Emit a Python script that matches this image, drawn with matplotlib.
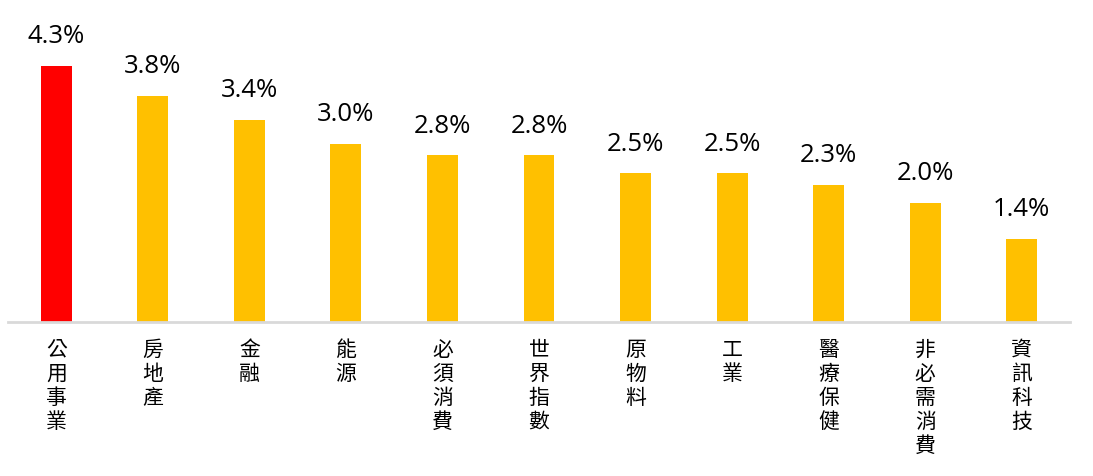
import matplotlib
matplotlib.use("Agg")
import matplotlib.pyplot as plt

# Sector yields (%)
sectors = ["公用事業", "房地產", "金融", "能源", "必須消費", "世界指數",
           "原物料", "工業", "醫療保健", "非必需消費", "資訊科技"]
values = [4.3, 3.8, 3.4, 3.0, 2.8, 2.8, 2.5, 2.5, 2.3, 2.0, 1.4]
value_labels = ["4.3%", "3.8%", "3.4%", "3.0%", "2.8%", "2.8%",
                "2.5%", "2.5%", "2.3%", "2.0%", "1.4%"]

highlight = "#FF0000"
base = "#FFC000"
colors = [highlight] + [base] * (len(values) - 1)

W, H = 1093, 476
fig = plt.figure(figsize=(W / 100, H / 100), dpi=100)
ax = fig.add_axes([8 / W, 1 - 322 / H, (1070 - 8) / W, 322 / H])

x = list(range(len(values)))
ax.bar(x, values, width=0.32, color=colors, zorder=2)
ax.set_xlim(-0.5, len(values) - 0.5)
ax.set_ylim(0, 322 / 59.5)

for s in ["top", "right", "left"]:
    ax.spines[s].set_visible(False)
ax.spines["bottom"].set_color("#D9D9D9")
ax.spines["bottom"].set_linewidth(2)
ax.set_yticks([])
ax.set_xticks([])

for xi, v, lab in zip(x, values, value_labels):
    ax.annotate(lab, (xi, v), xytext=(0, 12), textcoords="offset points",
                ha="center", va="bottom", fontsize=18.5,
                family=["Open Sans", "DejaVu Sans"], color="#000000")

# Vertical category labels, one character per line
for xi, name in zip(x, sectors):
    ax.annotate("\n".join(name), (xi, 0), xytext=(0, -12),
                textcoords="offset points", ha="center", va="top",
                fontsize=15, linespacing=1.12,
                family=["Noto Sans CJK TC", "DejaVu Sans"], color="#000000")

fig.savefig("out.png", dpi=100)
